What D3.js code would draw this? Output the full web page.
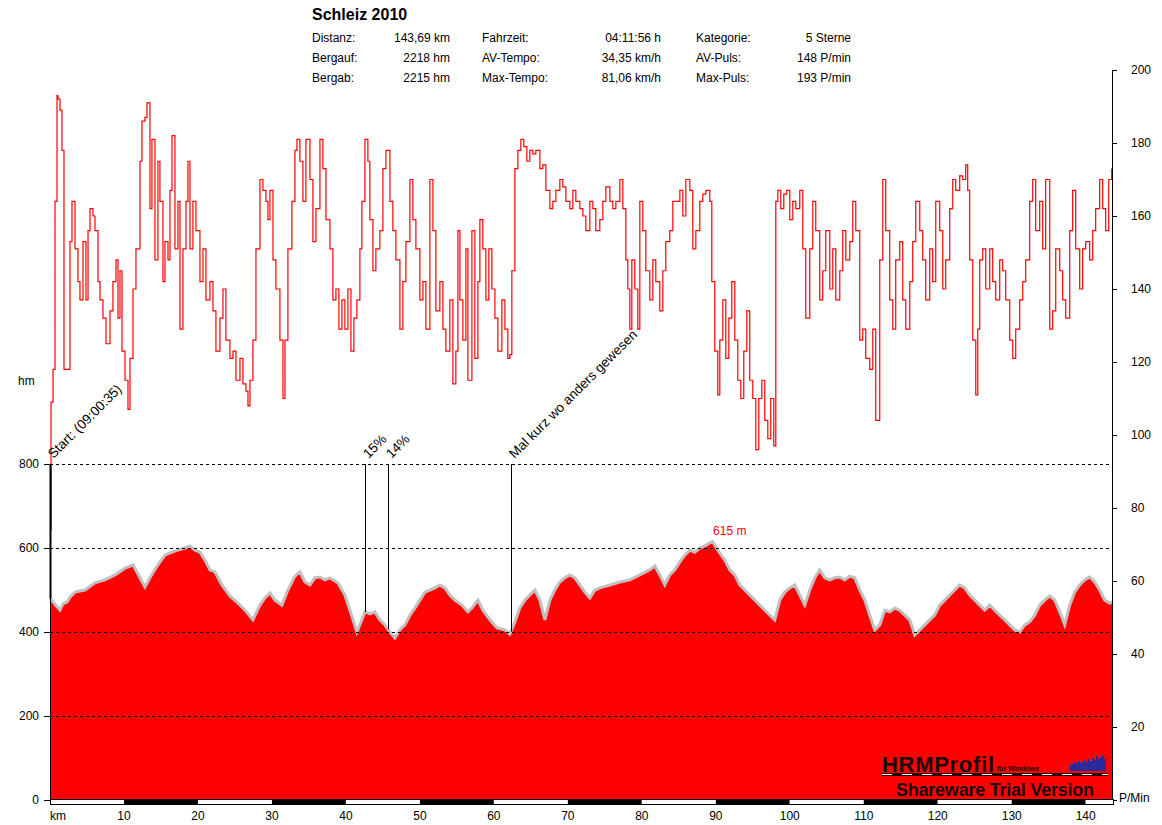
<!DOCTYPE html>
<html>
<head>
<meta charset="utf-8">
<script src="https://cdn.jsdelivr.net/npm/d3@7"></script>
<style>
	body { margin: 0; background: #fff; }
	svg text { font-family: "Liberation Sans", Arial, sans-serif; }
</style>
</head>
<body>
<div id="chart"></div>
<script>
var title = "Schleiz 2010";
var infoLabels = [["Distanz:", "Bergauf:", "Bergab:"], ["Fahrzeit:", "AV-Tempo:", "Max-Tempo:"], ["Kategorie:", "AV-Puls:", "Max-Puls:"]];
var infoValues = [["143,69 km", "2218 hm", "2215 hm"], ["04:11:56 h", "34,35 km/h", "81,06 km/h"], ["5 Sterne", "148 P/min", "193 P/min"]];

var totalKm = 143.69;
var kmTicks = [10, 20, 30, 40, 50, 60, 70, 80, 90, 100, 110, 120, 130, 140];
var hmTicks = [0, 200, 400, 600, 800];
var pulsTicks = [0, 20, 40, 60, 80, 100, 120, 140, 160, 180, 200];

// elevation profile (km, hm)
var elevKm = [0, 0.41, 0.95, 1.35, 1.76, 2.3, 2.7, 3.38, 4.73, 6.08, 7.43, 8.78, 10.14, 11.22, 12.16, 12.84, 13.51, 14.59, 15.54, 16.49, 17.3, 18.24, 18.92, 19.59, 20.27, 20.95, 21.62, 22.3, 23.24, 24.32, 25.41, 26.35, 27.43, 28.38, 29.05, 29.73, 30.41, 31.35, 32.16, 33.11, 33.78, 34.46, 35.14, 35.81, 36.49, 37.16, 37.84, 38.92, 39.86, 40.54, 41.49, 42.16, 42.57, 43.24, 43.92, 44.59, 45.27, 45.95, 46.62, 47.3, 47.97, 48.65, 49.32, 50, 50.68, 51.35, 52.03, 52.7, 53.38, 54.05, 54.73, 55.68, 56.49, 57.03, 57.84, 58.51, 59.46, 60.41, 61.49, 62.16, 62.84, 63.51, 64.19, 64.86, 65.54, 66.22, 66.89, 67.57, 68.24, 68.92, 69.59, 70.27, 70.95, 71.62, 72.3, 72.97, 73.65, 74.32, 75.68, 77.03, 78.38, 79.73, 81.08, 81.76, 82.43, 83.11, 83.78, 84.46, 85.14, 85.81, 86.49, 87.16, 87.84, 88.51, 89.19, 89.59, 90.27, 91.22, 91.89, 92.57, 93.24, 93.92, 94.59, 95.95, 97.3, 97.97, 98.65, 99.32, 100, 100.68, 101.35, 102.03, 102.7, 103.38, 104.05, 104.73, 105.41, 106.08, 106.76, 107.43, 108.11, 108.78, 109.46, 110.14, 110.81, 111.49, 112.16, 112.84, 113.51, 114.19, 114.86, 115.54, 116.22, 116.89, 117.57, 118.24, 118.92, 119.59, 120.27, 120.95, 121.62, 122.3, 122.97, 123.65, 124.32, 125, 125.68, 126.35, 127.03, 127.7, 128.38, 129.05, 129.73, 130.41, 131.08, 131.76, 132.43, 133.11, 133.78, 134.46, 135.14, 135.81, 136.49, 137.16, 137.84, 138.51, 139.19, 139.86, 140.54, 141.22, 141.89, 142.57, 143.24, 143.69];
var elevHm = [481, 471, 460, 452, 467, 471, 483, 495, 500, 517, 524, 536, 552, 560, 529, 507, 529, 560, 583, 590, 595, 600, 605, 595, 590, 571, 548, 543, 512, 486, 469, 452, 429, 464, 481, 493, 476, 464, 500, 533, 543, 519, 512, 529, 531, 524, 529, 517, 488, 452, 400, 429, 448, 443, 448, 429, 417, 400, 386, 405, 417, 440, 457, 476, 495, 500, 505, 512, 505, 488, 476, 464, 448, 457, 476, 452, 429, 410, 405, 395, 424, 457, 476, 488, 500, 476, 429, 476, 500, 519, 529, 536, 529, 512, 495, 481, 500, 505, 512, 519, 524, 536, 548, 557, 536, 512, 536, 548, 567, 583, 595, 590, 600, 605, 612, 615, 595, 571, 548, 536, 512, 500, 488, 464, 440, 429, 476, 495, 505, 512, 488, 464, 500, 529, 548, 529, 524, 529, 531, 524, 533, 529, 500, 476, 440, 405, 417, 452, 448, 457, 452, 440, 429, 393, 405, 417, 429, 440, 464, 476, 488, 500, 512, 505, 488, 476, 464, 452, 464, 452, 440, 429, 417, 405, 400, 417, 424, 440, 464, 476, 486, 476, 448, 417, 464, 495, 512, 524, 531, 519, 500, 476, 469, 471];

// heart rate (km, P/min)
var hrKm = [0, 0.14, 0.41, 0.68, 0.95, 1.08, 1.35, 1.62, 1.89, 2.3, 2.7, 2.97, 3.38, 3.78, 4.05, 4.46, 4.86, 5.14, 5.41, 5.81, 6.08, 6.49, 6.76, 7.16, 7.57, 8.11, 8.51, 8.92, 9.19, 9.46, 9.73, 10.14, 10.54, 10.81, 11.22, 11.62, 12.16, 12.43, 12.84, 13.11, 13.51, 13.78, 14.19, 14.59, 14.86, 15.27, 15.54, 15.95, 16.22, 16.49, 16.89, 17.3, 17.57, 17.97, 18.38, 18.65, 18.92, 19.32, 19.73, 20.27, 20.68, 21.08, 21.62, 22.03, 22.43, 22.97, 23.38, 23.78, 24.32, 24.73, 25.14, 25.68, 26.08, 26.49, 26.76, 27.03, 27.43, 27.84, 28.38, 28.78, 29.19, 29.46, 29.73, 30.14, 30.54, 31.08, 31.49, 31.76, 32.16, 32.7, 33.11, 33.38, 33.78, 34.19, 34.59, 35.14, 35.54, 35.95, 36.49, 36.89, 37.3, 37.84, 38.24, 38.65, 39.05, 39.46, 39.86, 40.27, 40.68, 41.08, 41.49, 41.89, 42.16, 42.57, 42.97, 43.24, 43.65, 44.05, 44.59, 45, 45.41, 45.95, 46.35, 46.76, 47.3, 47.7, 48.11, 48.65, 49.05, 49.46, 50, 50.41, 50.81, 51.35, 51.76, 52.16, 52.7, 53.11, 53.51, 54.05, 54.46, 54.86, 55.14, 55.41, 55.81, 56.22, 56.49, 57.03, 57.43, 57.84, 58.11, 58.51, 58.92, 59.32, 59.73, 60.14, 60.54, 61.08, 61.49, 61.89, 62.16, 62.43, 62.84, 63.24, 63.65, 64.05, 64.46, 64.86, 65.27, 65.68, 66.22, 66.62, 67.03, 67.57, 67.97, 68.38, 68.92, 69.32, 69.73, 70.27, 70.68, 71.08, 71.62, 72.03, 72.43, 72.97, 73.38, 73.78, 74.32, 74.73, 75.14, 75.68, 76.08, 76.49, 77.03, 77.43, 77.84, 78.11, 78.38, 78.65, 79.05, 79.46, 79.73, 80.14, 80.54, 81.08, 81.49, 81.89, 82.43, 82.84, 83.24, 83.78, 84.19, 84.59, 85.14, 85.54, 85.95, 86.49, 86.89, 87.3, 87.84, 88.24, 88.65, 89.19, 89.46, 89.86, 90.27, 90.54, 90.95, 91.35, 91.76, 92.16, 92.57, 92.97, 93.38, 93.78, 94.19, 94.59, 95, 95.41, 95.81, 96.22, 96.62, 97.03, 97.43, 97.84, 98.11, 98.38, 98.78, 99.19, 99.59, 100, 100.41, 100.81, 101.35, 101.76, 102.16, 102.7, 103.11, 103.51, 104.05, 104.46, 104.86, 105.41, 105.81, 106.22, 106.76, 107.16, 107.57, 108.11, 108.51, 108.92, 109.46, 109.86, 110.27, 110.81, 111.22, 111.62, 112.16, 112.57, 112.97, 113.51, 113.92, 114.32, 114.86, 115.27, 115.68, 116.22, 116.62, 117.03, 117.57, 117.97, 118.38, 118.92, 119.32, 119.73, 120.27, 120.68, 121.08, 121.62, 122.03, 122.43, 122.97, 123.38, 123.78, 124.05, 124.32, 124.73, 125.14, 125.41, 125.68, 126.08, 126.49, 127.03, 127.43, 127.84, 128.38, 128.78, 129.19, 129.73, 130.14, 130.54, 131.08, 131.49, 131.89, 132.43, 132.84, 133.24, 133.78, 134.19, 134.59, 135.14, 135.54, 135.95, 136.49, 136.89, 137.3, 137.84, 138.24, 138.65, 139.19, 139.59, 140, 140.54, 140.95, 141.35, 141.89, 142.3, 142.7, 143.11, 143.51];
var hrBpm = [74, 109, 118, 164, 193, 192, 189, 178, 118, 118, 153, 164, 151, 142, 137, 153, 137, 156, 162, 160, 156, 142, 137, 132, 125, 134, 142, 148, 132, 145, 123, 115, 107, 121, 140, 151, 175, 186, 187, 191, 162, 181, 148, 175, 164, 142, 153, 148, 167, 182, 151, 164, 129, 151, 164, 175, 151, 164, 156, 142, 151, 137, 142, 134, 123, 132, 140, 126, 121, 123, 115, 121, 114, 112, 108, 115, 126, 151, 170, 167, 164, 159, 167, 148, 140, 126, 110, 126, 151, 164, 178, 181, 175, 164, 181, 170, 153, 162, 181, 173, 159, 151, 137, 140, 129, 137, 129, 140, 123, 132, 137, 151, 164, 181, 175, 159, 145, 151, 156, 173, 178, 164, 156, 148, 129, 142, 153, 170, 159, 151, 137, 142, 129, 170, 156, 134, 142, 129, 123, 137, 114, 123, 156, 137, 126, 151, 115, 156, 121, 142, 159, 151, 137, 151, 140, 132, 123, 137, 129, 121, 122, 145, 173, 178, 181, 179, 175, 178, 177, 178, 173, 174, 167, 162, 164, 167, 170, 168, 164, 162, 167, 164, 162, 160, 156, 164, 162, 156, 159, 164, 168, 164, 162, 164, 170, 162, 148, 140, 129, 148, 140, 129, 164, 156, 145, 137, 148, 142, 134, 145, 153, 156, 164, 164, 167, 160, 170, 167, 151, 156, 164, 166, 167, 164, 142, 123, 111, 126, 137, 121, 132, 142, 126, 115, 110, 123, 134, 115, 110, 96, 110, 115, 104, 99, 110, 97, 164, 167, 162, 166, 167, 159, 164, 162, 167, 151, 132, 151, 164, 156, 137, 145, 156, 140, 151, 137, 145, 156, 148, 153, 164, 156, 126, 129, 121, 118, 129, 104, 148, 170, 156, 137, 129, 148, 153, 137, 129, 142, 153, 164, 156, 148, 137, 151, 142, 164, 156, 140, 148, 162, 170, 167, 171, 170, 174, 167, 148, 126, 111, 129, 148, 151, 140, 151, 142, 137, 148, 145, 137, 126, 121, 129, 137, 142, 148, 164, 170, 156, 164, 151, 170, 129, 134, 151, 145, 137, 132, 156, 167, 151, 140, 151, 153, 148, 156, 162, 170, 162, 156, 170, 173];

// markers placed on the profile
var markerKm = [0, 42.6, 45.7, 62.3];
var markerText = ["Start: (09:00:35)", "15%", "14%", "Mal kurz wo anders gewesen"];
var maxElevKm = 89.59;
var maxElevText = "615 m";

var W = 1162, H = 825;
var svg = d3.select("#chart").append("svg")
	.attr("width", W)
	.attr("height", H);

var x = d3.scaleLinear().domain([0, totalKm]).range([50, 1113]);
var yElev = d3.scaleLinear().domain([0, 800]).range([800, 464]);
var yHr = d3.scaleLinear().domain([0, 200]).range([800, 70]);

var elevData = elevKm.map(function(k, i) { return { km: k, hm: elevHm[i] }; });
var hrData = hrKm.map(function(k, i) { return { km: k, bpm: hrBpm[i] }; });

// header
svg.append("text")
	.attr("x", 312).attr("y", 20)
	.style("font-size", "16px").style("font-weight", "bold")
	.text(title);
var colLabelX = [312, 482, 696];
var colValueX = [450, 661, 851];
for (var c = 0; c < 3; c++) {
	for (var r = 0; r < 3; r++) {
		svg.append("text")
			.attr("x", colLabelX[c]).attr("y", 42 + r * 20)
			.style("font-size", "12px")
			.text(infoLabels[c][r]);
		svg.append("text")
			.attr("x", colValueX[c]).attr("y", 42 + r * 20)
			.attr("text-anchor", "end")
			.style("font-size", "12px")
			.text(infoValues[c][r]);
	}
}

// elevation area
var area = d3.area()
	.x(function(d) { return x(d.km); })
	.y0(yElev(0))
	.y1(function(d) { return yElev(d.hm); });
svg.append("path")
	.datum(elevData)
	.attr("d", area)
	.attr("fill", "#ff0000");
svg.append("path")
	.datum(elevData)
	.attr("d", d3.line().x(function(d) { return x(d.km); }).y(function(d) { return yElev(d.hm); }))
	.attr("fill", "none")
	.attr("stroke", "#c0c0c0")
	.attr("stroke-width", 3);

// dashed grid
svg.selectAll(".grid")
	.data(hmTicks.filter(function(d) { return d > 0; }))
	.enter().append("line")
	.attr("class", "grid")
	.attr("x1", x(0)).attr("x2", x(totalKm))
	.attr("y1", function(d) { return Math.round(yElev(d)) + 0.5; })
	.attr("y2", function(d) { return Math.round(yElev(d)) + 0.5; })
	.attr("stroke", "#000")
	.attr("stroke-dasharray", "3,3");

// heart rate
svg.append("path")
	.datum(hrData)
	.attr("d", d3.line().curve(d3.curveStepAfter).x(function(d) { return x(d.km); }).y(function(d) { return yHr(d.bpm); }))
	.attr("fill", "none")
	.attr("stroke", "#ff0000")
	.attr("stroke-width", 1.2);

// markers
var bisect = d3.bisector(function(d) { return d.km; }).left;
function elevAt(k) {
	var i = Math.max(1, bisect(elevData, k));
	var a = elevData[i - 1], b = elevData[Math.min(i, elevData.length - 1)];
	var t = b.km === a.km ? 0 : (k - a.km) / (b.km - a.km);
	return a.hm + (b.hm - a.hm) * t;
}
markerKm.forEach(function(k, i) {
	var px = Math.round(x(k)) + 0.5;
	svg.append("line")
		.attr("x1", px).attr("x2", px)
		.attr("y1", yElev(800)).attr("y2", yElev(elevAt(k)))
		.attr("stroke", "#000")
		.attr("stroke-width", i === 0 ? 2 : 1);
	svg.append("text")
		.attr("transform", "translate(" + (px + 3) + "," + (yElev(800) - 5) + ") rotate(-45)")
		.style("font-size", "13.5px")
		.text(markerText[i]);
});
svg.append("text")
	.attr("x", x(maxElevKm) + 17).attr("y", yElev(615) - 7)
	.attr("text-anchor", "middle")
	.attr("fill", "#ff0000")
	.style("font-size", "12px")
	.text(maxElevText);

// left axis
svg.append("line")
	.attr("x1", 50.5).attr("x2", 50.5)
	.attr("y1", yElev(800)).attr("y2", yElev(0))
	.attr("stroke", "#000");
svg.selectAll(".hmTick")
	.data(hmTicks)
	.enter().append("line")
	.attr("x1", 44).attr("x2", 50)
	.attr("y1", function(d) { return Math.round(yElev(d)) + 0.5; })
	.attr("y2", function(d) { return Math.round(yElev(d)) + 0.5; })
	.attr("stroke", "#000");
svg.selectAll(".hmLabel")
	.data(hmTicks)
	.enter().append("text")
	.attr("x", 39)
	.attr("y", function(d) { return yElev(d) + 4; })
	.attr("text-anchor", "end")
	.style("font-size", "12px")
	.text(function(d) { return d; });
svg.append("text")
	.attr("x", 18).attr("y", 385)
	.style("font-size", "12px")
	.text("hm");

// right axis
svg.append("line")
	.attr("x1", 1112.5).attr("x2", 1112.5)
	.attr("y1", yHr(200)).attr("y2", yHr(0))
	.attr("stroke", "#000");
svg.selectAll(".hrTick")
	.data(pulsTicks)
	.enter().append("line")
	.attr("x1", 1112).attr("x2", 1117)
	.attr("y1", function(d) { return Math.round(yHr(d)) + 0.5; })
	.attr("y2", function(d) { return Math.round(yHr(d)) + 0.5; })
	.attr("stroke", "#000");
svg.selectAll(".hrLabel")
	.data(pulsTicks.filter(function(d) { return d > 0; }))
	.enter().append("text")
	.attr("x", 1131)
	.attr("y", function(d) { return yHr(d) + 4; })
	.style("font-size", "12px")
	.text(function(d) { return d; });
svg.append("text")
	.attr("x", 1119).attr("y", 802)
	.style("font-size", "12px")
	.text("P/Min");

// km bar
var segs = d3.range(0, Math.ceil(totalKm / 10)).map(function(i) { return [i * 10, Math.min((i + 1) * 10, totalKm)]; });
svg.selectAll(".kmSeg")
	.data(segs)
	.enter().append("rect")
	.attr("x", function(d) { return x(d[0]); })
	.attr("width", function(d) { return x(d[1]) - x(d[0]); })
	.attr("y", 800).attr("height", 5)
	.attr("fill", function(d, i) { return i % 2 ? "#000" : "#fff"; });
svg.append("rect")
	.attr("x", 50.5).attr("y", 799.5)
	.attr("width", x(totalKm) - 50).attr("height", 5)
	.attr("fill", "none").attr("stroke", "#000");
svg.selectAll(".kmLabel")
	.data(kmTicks)
	.enter().append("text")
	.attr("x", function(d) { return x(d); })
	.attr("y", 820)
	.attr("text-anchor", "middle")
	.style("font-size", "12px")
	.text(function(d) { return d; });
svg.append("text")
	.attr("x", 50).attr("y", 820)
	.style("font-size", "12px")
	.text("km");

// logo
var logo = svg.append("g").attr("transform", "translate(882,752)");
logo.append("text")
	.attr("x", 0).attr("y", 20)
	.style("font-size", "22px").style("font-weight", "bold")
	.attr("fill", "#1a0a0a")
	.attr("textLength", 112)
	.text("HRMProfil");
logo.append("text")
	.attr("x", 115).attr("y", 19)
	.style("font-size", "7px").style("font-weight", "bold")
	.attr("fill", "#1a0a0a")
	.text("für Windows");
var logoBars = [6, 7, 9, 8, 10, 8, 9, 11, 9, 12, 10, 13, 11, 15, 12, 14, 16, 12];
logo.selectAll(".lb")
	.data(logoBars)
	.enter().append("rect")
	.attr("x", function(d, i) { return 188 + i * 2; })
	.attr("y", function(d) { return 19 - d; })
	.attr("width", 2)
	.attr("height", function(d) { return d; })
	.attr("fill", "#2a2a9a");
logo.append("line")
	.attr("x1", 0).attr("x2", 226)
	.attr("y1", 22.5).attr("y2", 22.5)
	.attr("stroke", "#1a0a0a").attr("stroke-width", 3);
logo.append("line")
	.attr("x1", 0).attr("x2", 226)
	.attr("y1", 22.5).attr("y2", 22.5)
	.attr("stroke", "#fff").attr("stroke-width", 1)
	.attr("stroke-dasharray", "10,10");
logo.append("text")
	.attr("x", 14).attr("y", 44)
	.style("font-size", "18px").style("font-weight", "bold")
	.attr("fill", "#1a0a0a")
	.attr("textLength", 198)
	.text("Shareware Trial  Version");
</script>
</body>
</html>
